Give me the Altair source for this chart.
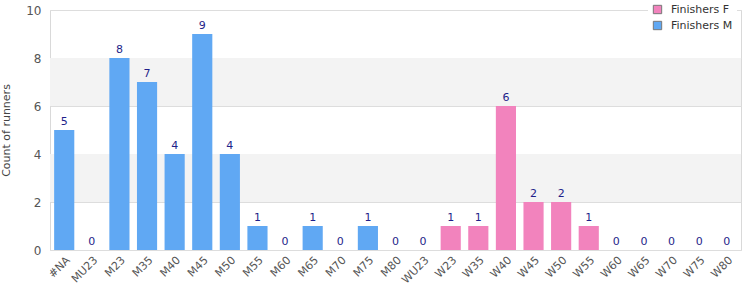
import altair as alt
import pandas as pd

categories = ["#NA", "MU23", "M23", "M35", "M40", "M45", "M50", "M55", "M60", "M65", "M70", "M75", "M80",
              "WU23", "W23", "W35", "W40", "W45", "W50", "W55", "W60", "W65", "W70", "W75", "W80"]
counts = [5, 0, 8, 7, 4, 9, 4, 1, 0, 1, 0, 1, 0,
          0, 1, 1, 6, 2, 2, 1, 0, 0, 0, 0, 0]
series = ["Finishers M"] * 13 + ["Finishers F"] * 12

band_lo = [2, 6]
band_hi = [4, 8]

df = pd.DataFrame({"cat": categories, "count": counts, "series": series})
bands = pd.DataFrame({"lo": band_lo, "hi": band_hi})

FONT = "DejaVu Sans"

xenc = alt.X("cat:N", sort=categories, title=None,
             scale=alt.Scale(paddingInner=0.27, paddingOuter=0.15),
             axis=alt.Axis(labelAngle=-45, labelColor="#555", labelFontSize=11, labelFont=FONT,
                           domain=False, ticks=False, labelPadding=4, labelAlign="right", labelBaseline="top"))
yscale = alt.Scale(domain=[0, 10], nice=False)

band_layer = alt.Chart(bands).mark_rect(color="#f3f3f3").encode(
    y=alt.Y("lo:Q", scale=yscale), y2="hi:Q", x=alt.value(0), x2=alt.value(691))

bars = alt.Chart(df).mark_bar().encode(
    x=xenc,
    y=alt.Y("count:Q", scale=yscale, title="Count of runners",
            axis=alt.Axis(values=[0, 2, 4, 6, 8, 10], labelColor="#555", labelFontSize=12, labelFont=FONT,
                          titleColor="#444", titleFont=FONT, titleFontSize=11, titleFontWeight="normal",
                          gridColor="#dddddd", domain=False, ticks=False, labelPadding=9, titlePadding=14)),
    color=alt.Color("series:N", scale=alt.Scale(domain=["Finishers F", "Finishers M"], range=["#f283bd", "#60a8f3"]),
                    legend=alt.Legend(title=None, orient="none", legendX=598, legendY=-10,
                                      symbolType="square", symbolSize=70, symbolStrokeColor="#777",
                                      symbolStrokeWidth=1, labelFont=FONT, labelFontSize=11, labelColor="#333",
                                      fillColor="white", padding=4, rowPadding=3, labelOffset=8)),
)

labels = alt.Chart(df).mark_text(dy=-8, fontSize=11, font=FONT, color="#1f1f8a").encode(
    x=alt.X("cat:N", sort=categories), y=alt.Y("count:Q", scale=yscale), text="count:Q")

chart = alt.layer(band_layer, bars, labels).properties(
    width=691, height=240,
    autosize=alt.AutoSizeParams(type="none"),
    padding={"left": 50, "top": 10, "right": 9, "bottom": 50},
).configure_view(stroke="#d9d9d9", strokeWidth=1)

chart.save("out.html", embed_options={"renderer": "svg", "actions": False})
